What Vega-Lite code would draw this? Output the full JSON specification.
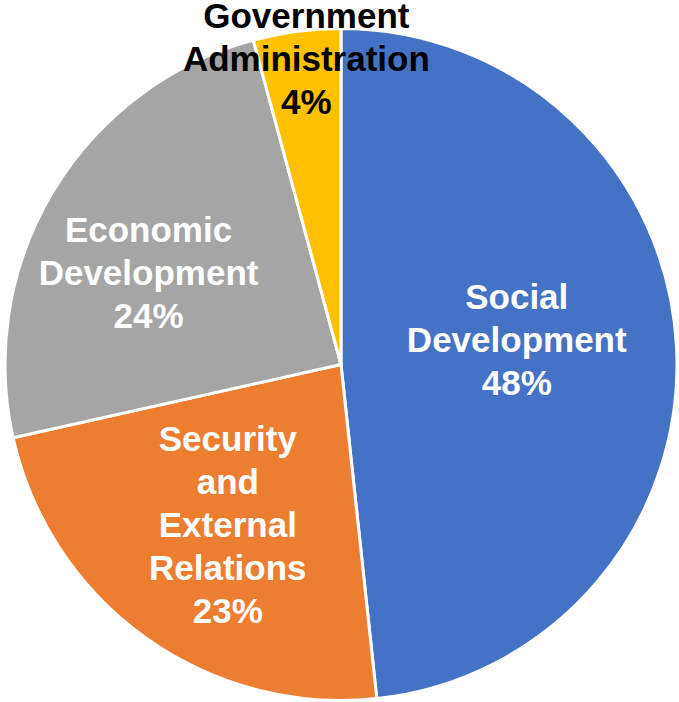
{
  "$schema": "https://vega.github.io/schema/vega-lite/v6.json",
  "autosize": {"type": "none"},
  "width": 672,
  "height": 673,
  "padding": {"left": 5, "right": 2, "top": 28, "bottom": 1},
  "background": "white",
  "config": {"view": {"stroke": null}},
  "data": {
    "values": [
      {"idx": 1, "cat": "Social Development", "value": 48.3, "label": "Social\nDevelopment\n48%"},
      {"idx": 2, "cat": "Security and External Relations", "value": 23.2, "label": "Security\nand\nExternal\nRelations\n23%"},
      {"idx": 3, "cat": "Economic Development", "value": 24.3, "label": "Economic\nDevelopment\n24%"},
      {"idx": 4, "cat": "Government Administration", "value": 4.2, "label": "Government\nAdministration\n4%"}
    ]
  },
  "encoding": {
    "theta": {"field": "value", "type": "quantitative", "stack": true},
    "order": {"field": "idx", "type": "quantitative"},
    "detail": {"field": "cat", "type": "nominal"}
  },
  "layer": [
    {
      "mark": {"type": "arc", "outerRadius": 336, "stroke": "white", "strokeWidth": 3},
      "encoding": {
        "color": {
          "field": "cat",
          "type": "nominal",
          "scale": {
            "domain": ["Social Development", "Security and External Relations", "Economic Development", "Government Administration"],
            "range": ["#4472C4", "#ED7D31", "#A5A5A5", "#FFC000"]
          },
          "legend": null
        }
      }
    },
    {
      "mark": {"type": "text", "radius": 176, "dy": -57, "font": "Liberation Sans", "fontWeight": "bold", "fontSize": 35, "lineHeight": 43, "lineBreak": "\n", "fill": "white", "align": "center", "baseline": "middle"},
      "encoding": {
        "text": {"condition": {"test": "datum.cat === 'Social Development'", "field": "label", "type": "nominal"}, "value": ""}
      }
    },
    {
      "mark": {"type": "text", "radius": 196, "dx": 1, "dy": -84, "font": "Liberation Sans", "fontWeight": "bold", "fontSize": 35, "lineHeight": 43, "lineBreak": "\n", "fill": "white", "align": "center", "baseline": "middle"},
      "encoding": {
        "text": {"condition": {"test": "datum.cat === 'Security and External Relations'", "field": "label", "type": "nominal"}, "value": ""}
      }
    },
    {
      "mark": {"type": "text", "radius": 212, "dx": -11, "dy": -24, "font": "Liberation Sans", "fontWeight": "bold", "fontSize": 35, "lineHeight": 43, "lineBreak": "\n", "fill": "white", "align": "center", "baseline": "middle"},
      "encoding": {
        "text": {"condition": {"test": "datum.cat === 'Economic Development'", "field": "label", "type": "nominal"}, "value": ""}
      }
    },
    {
      "mark": {"type": "text", "radius": 309, "dx": 6, "dy": -41, "font": "Liberation Sans", "fontWeight": "bold", "fontSize": 35, "lineHeight": 43, "lineBreak": "\n", "fill": "black", "align": "center", "baseline": "middle"},
      "encoding": {
        "text": {"condition": {"test": "datum.cat === 'Government Administration'", "field": "label", "type": "nominal"}, "value": ""}
      }
    }
  ]
}
